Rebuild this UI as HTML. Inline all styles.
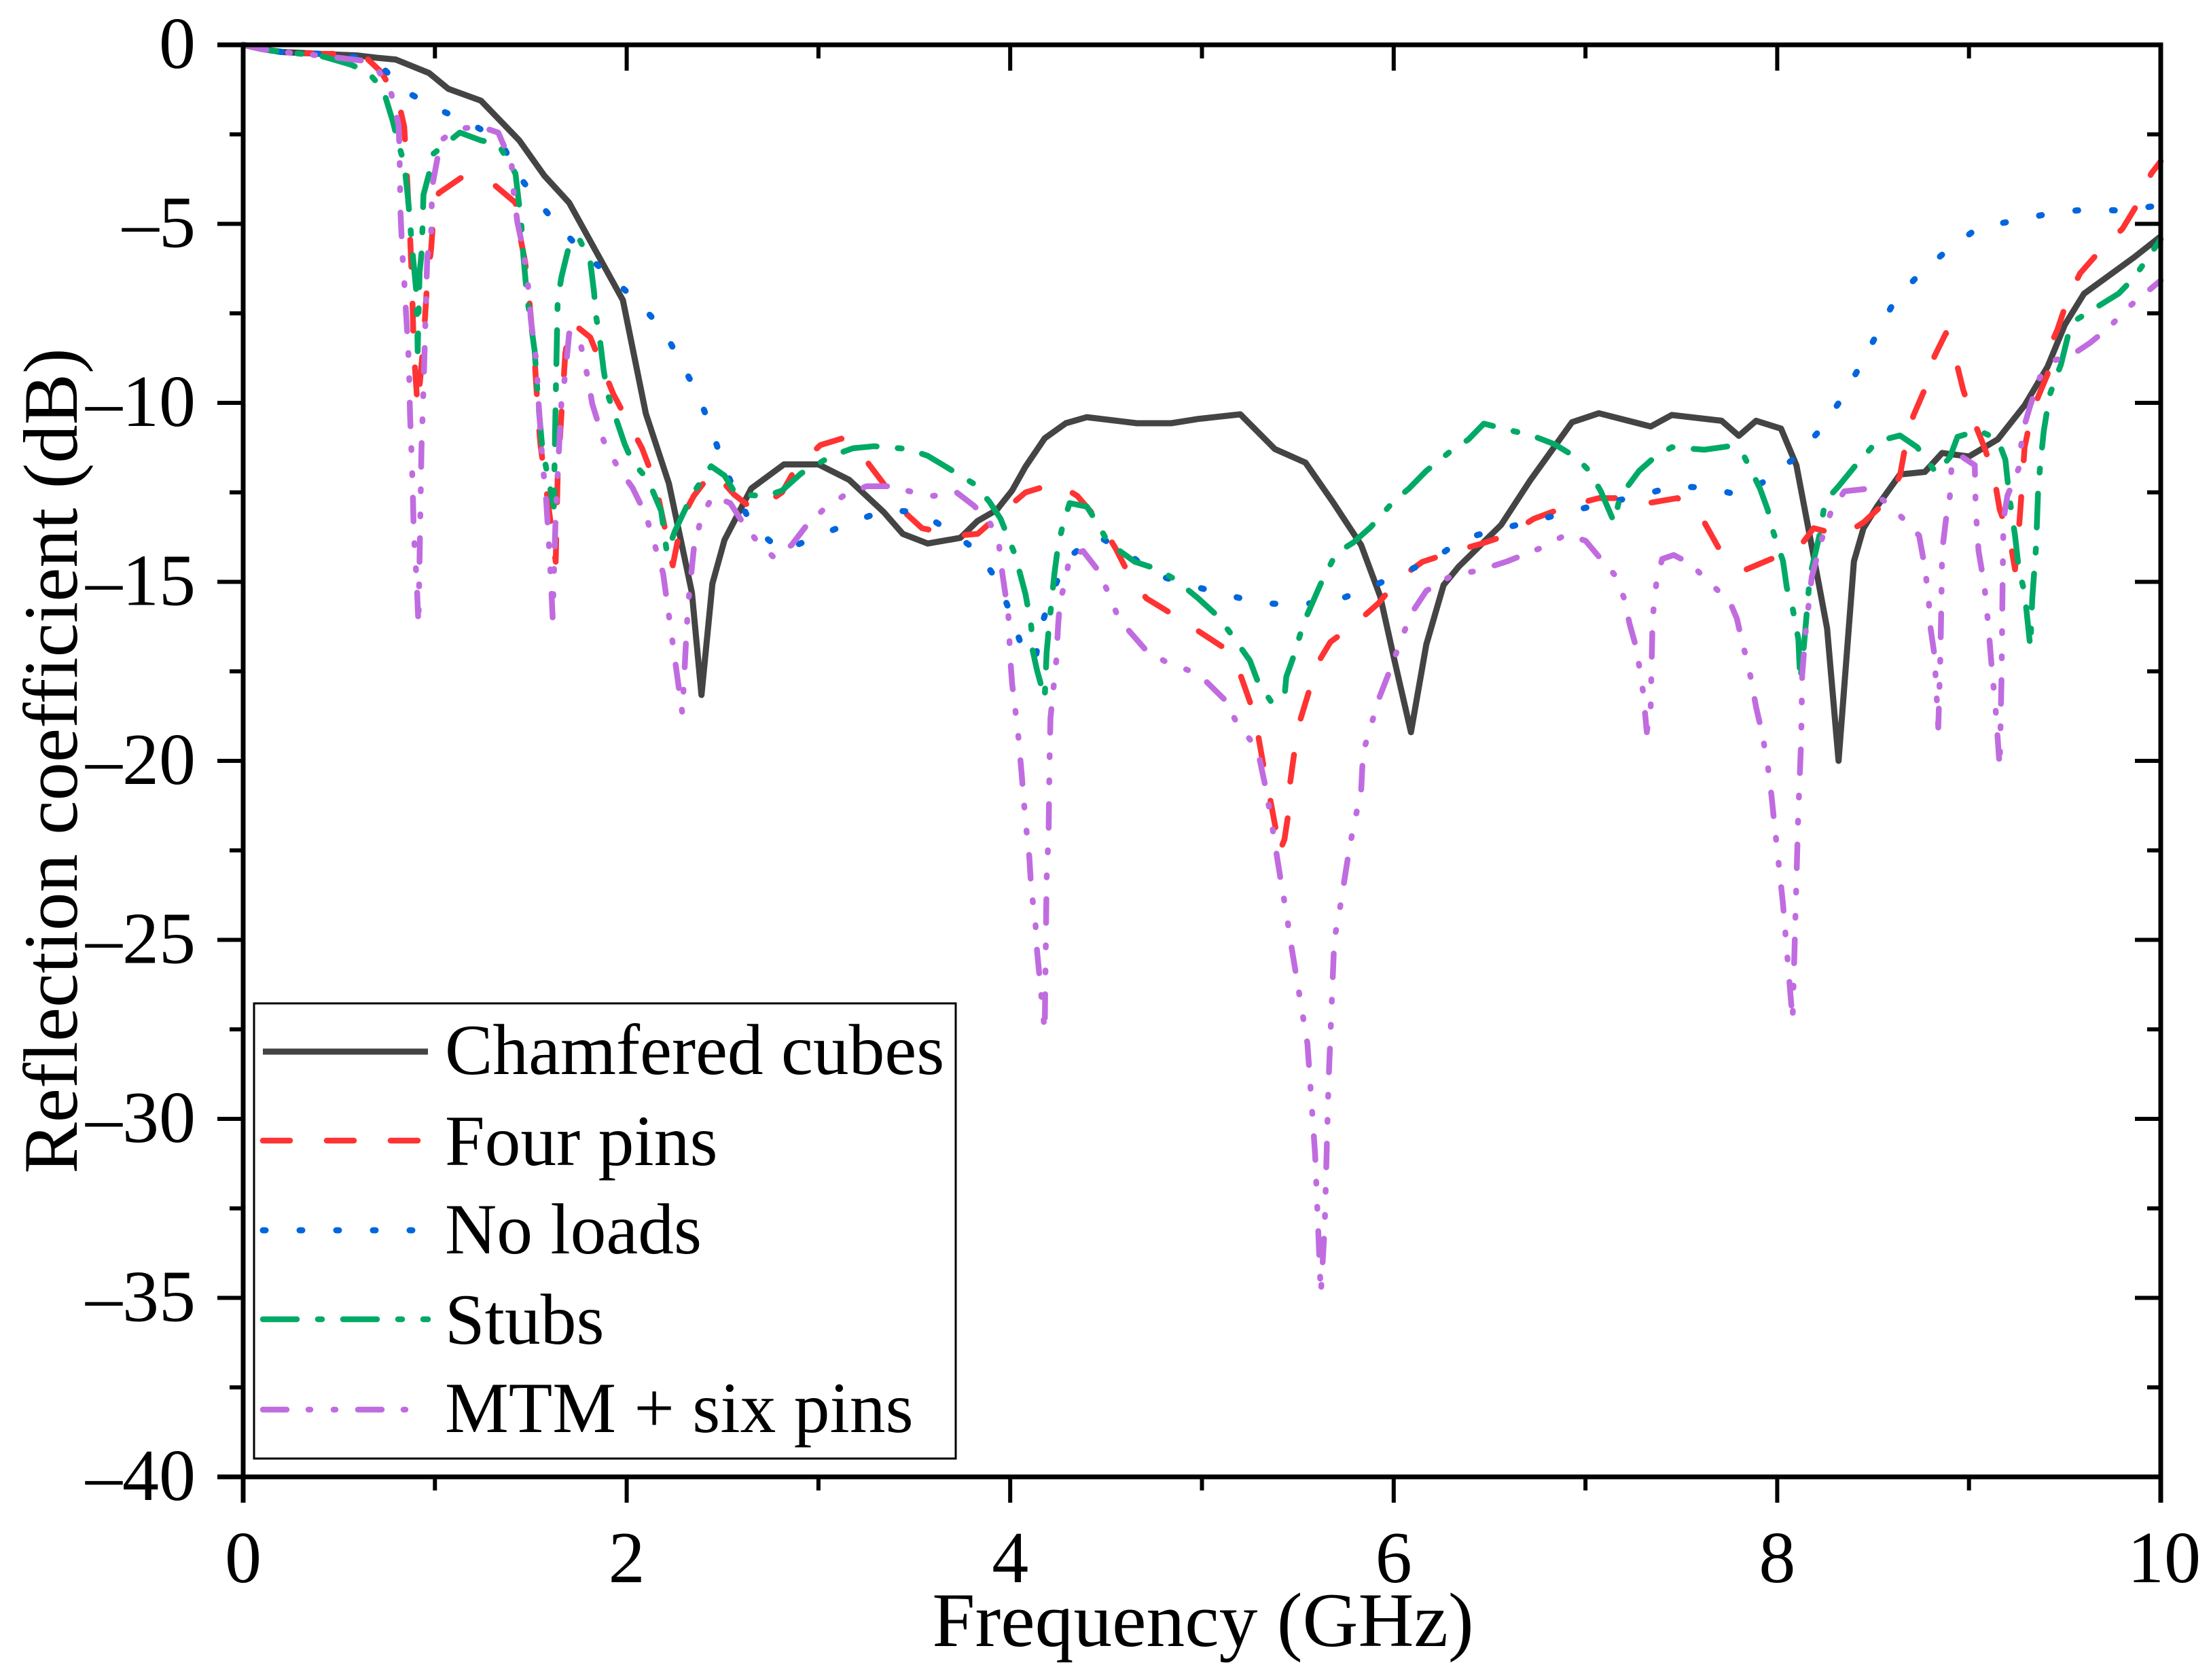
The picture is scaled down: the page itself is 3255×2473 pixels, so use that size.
<!DOCTYPE html>
<html lang="en">
<head>
<meta charset="utf-8">
<title>Reflection coefficient chart</title>
<style>
html,body{margin:0;padding:0;background:#fff;}
svg{display:block;}
text{font-family:"Liberation Serif",serif;fill:#000;}
</style>
</head>
<body>
<svg id="chart" xmlns="http://www.w3.org/2000/svg" width="3255" height="2473" viewBox="0 0 3255 2473">
<rect x="0" y="0" width="3255" height="2473" fill="#fff"/>
<g id="series"></g>
<g id="axes"></g>
<text x="1771" y="2423" font-size="113.5" text-anchor="middle">Frequency (GHz)</text>
<text transform="translate(113 1120) rotate(-90)" font-size="113" text-anchor="middle">Reflection coefficient (dB)</text>
<g id="legend">
<rect x="374" y="1477" width="1033" height="670" fill="#fff" stroke="#000" stroke-width="3"/>
</g>
</svg>
<script>
const xTickValues = [0, 2, 4, 6, 8, 10];
const xMinorValues = [1, 3, 5, 7, 9];
const yTickValues = [0, -5, -10, -15, -20, -25, -30, -35, -40];
const yMinorValues = [-2.5, -7.5, -12.5, -17.5, -22.5, -27.5, -32.5, -37.5];
const yTickLabels = ["0", "–5", "–10", "–15", "–20", "–25", "–30", "–35", "–40"];
const xTickLabels = ["0", "2", "4", "6", "8", "10"];

const chamferedFreq = [0,.1,.2,.4,.6,.695,.795,.97,1.07,1.24,
1.44,1.57,1.7,1.98,2.1,2.22,2.34,2.39,2.447,2.51,
2.65,2.82,3,3.16,3.34,3.44,3.57,3.74,3.83,3.93,
4.01,4.08,4.18,4.29,4.4,4.66,4.84,4.98,5.2,5.38,
5.54,5.68,5.83,5.93,6,6.09,6.17,6.26,6.34,6.56,
6.71,6.93,7.07,7.34,7.45,7.71,7.8,7.89,8.02,8.1,
8.18,8.26,8.32,8.4,8.45,8.52,8.64,8.77,8.86,9,
9.15,9.29,9.41,9.5,9.6,9.86,10];
const chamferedDb = [0,-.12,-.2,-.25,-.3,-.36,-.41,-.79,-1.23,-1.56,
-2.67,-3.65,-4.41,-7.13,-10.3,-12.25,-15.3,-18.16,-15.05,-13.83,
-12.39,-11.72,-11.72,-12.15,-13.05,-13.66,-13.93,-13.77,-13.3,-12.99,
-12.45,-11.78,-10.99,-10.57,-10.4,-10.57,-10.57,-10.45,-10.32,-11.29,
-11.67,-12.75,-13.97,-15.41,-17.1,-19.2,-16.75,-15.09,-14.57,-13.41,
-12.18,-10.54,-10.29,-10.66,-10.34,-10.5,-10.92,-10.5,-10.72,-11.74,
-14,-16.3,-20,-14.43,-13.5,-12.9,-12,-11.93,-11.4,-11.5,
-11.02,-10.07,-8.99,-7.82,-6.95,-5.94,-5.35];

const fourPinsFreq = [0,.1,.2,.4,.62,.72,.81,.84,.85,.86,
.87,.88,.89,.91,.94,.96,.98,.99,1.02,1.14,
1.3,1.42,1.45,1.47,1.49,1.52,1.54,1.55,1.59,1.63,
1.64,1.66,1.68,1.71,1.81,1.93,2.08,2.15,2.24,2.29,
2.35,2.45,2.56,2.67,2.81,2.88,3.01,3.12,3.24,3.34,
3.43,3.54,3.72,3.83,3.96,4.08,4.24,4.35,4.47,4.55,
4.62,4.71,4.86,4.98,5.12,5.2,5.26,5.29,5.32,5.35,
5.39,5.4,5.43,5.45,5.46,5.48,5.51,5.55,5.6,5.67,
5.8,5.92,6.03,6.15,6.32,6.46,6.6,6.73,6.9,7.07,
7.2,7.34,7.48,7.62,7.71,7.84,8,8.13,8.19,8.34,
8.45,8.57,8.64,8.67,8.71,8.78,8.82,8.88,8.93,8.97,
9.02,9.08,9.13,9.16,9.21,9.24,9.26,9.27,9.29,9.33,
9.41,9.43,9.46,9.52,9.58,9.69,9.8,9.89,9.95,10];
const fourPinsDb = [0,-.12,-.2,-.25,-.25,-.76,-1.58,-2.29,-3.2,-4.3,
-5.28,-6.6,-8.55,-10.13,-8.33,-6.6,-5.7,-4.96,-4.14,-3.7,
-3.87,-4.41,-5.5,-6.05,-7,-8.77,-10.5,-11.16,-12.8,-14.44,
-12.03,-10.3,-8.6,-7.74,-8.17,-9.75,-11.27,-12.25,-14.54,-13.2,
-12.6,-11.9,-12.56,-13.02,-12.5,-11.84,-11.18,-11,-11.55,-12.26,
-12.96,-13.5,-13.71,-13.66,-13.05,-12.5,-12.24,-12.6,-13.35,-14.07,
-14.8,-15.46,-15.95,-16.37,-16.86,-17.59,-18.5,-19.2,-20.1,-20.9,
-22.05,-22.6,-22.2,-21.5,-20.6,-19.83,-18.9,-18.2,-17.3,-16.68,
-16.17,-15.6,-14.9,-14.44,-14.14,-13.93,-13.68,-13.24,-12.9,-12.66,
-12.66,-12.79,-12.66,-13.34,-14.2,-14.65,-14.29,-13.93,-13.5,-13.71,
-13.34,-12.75,-12.03,-11.16,-10.36,-9.49,-8.7,-8.05,-8.77,-9.64,
-10.44,-11.24,-12.03,-12.98,-13.71,-14.65,-13.55,-12.83,-11.24,-10.22,
-9.2,-8.33,-7.97,-7.02,-6.38,-5.71,-5.14,-4.35,-3.6,-3.25];

const noLoadsFreq = [0,.1,.2,.4,.6,.72,.85,1.01,1.19,1.34,
1.43,1.53,1.65,1.78,1.92,2.06,2.19,2.28,2.37,2.44,
2.5,2.57,2.66,2.81,2.99,3.17,3.35,3.53,3.69,3.83,
3.94,4.01,4.07,4.13,4.16,4.22,4.29,4.45,4.61,4.76,
4.94,5.12,5.31,5.5,5.69,5.86,6.03,6.2,6.36,6.55,
6.73,6.91,7.1,7.28,7.46,7.63,7.81,7.95,8.1,8.23,
8.34,8.43,8.52,8.61,8.74,8.88,9.05,9.25,9.43,9.61,
9.8,10];
const noLoadsDb = [0,-.12,-.2,-.25,-.35,-.6,-1.31,-1.78,-2.21,-2.67,
-3.6,-4.33,-5.1,-5.83,-6.5,-7.19,-7.95,-8.84,-9.75,-10.7,
-11.67,-12.55,-13.47,-14.14,-13.74,-13.34,-13,-13.05,-13.6,-14.14,
-15.03,-16,-16.97,-17.2,-16.26,-15.3,-14.38,-13.7,-14.2,-14.8,
-15.1,-15.35,-15.6,-15.63,-15.54,-15.2,-14.78,-14.4,-13.8,-13.53,
-13.3,-13.05,-12.8,-12.6,-12.33,-12.37,-12.58,-12.14,-11.5,-10.72,
-9.85,-8.99,-8.08,-7.17,-6.41,-5.77,-5.1,-4.9,-4.7,-4.6,
-4.63,-4.48];

const stubsFreq = [0,.1,.2,.4,.56,.65,.73,.78,.81,.84,
.86,.87,.88,.905,.91,.92,.93,.935,.94,.97,
.99,1.13,1.24,1.33,1.42,1.45,1.46,1.48,1.5,1.52,
1.54,1.56,1.62,1.625,1.63,1.64,1.66,1.7,1.75,1.81,
1.83,1.84,1.86,1.88,1.9,1.99,2.03,2.11,2.18,2.21,
2.25,2.34,2.44,2.51,2.57,2.73,2.81,2.91,3.07,3.18,
3.29,3.47,3.57,3.67,3.81,3.89,3.95,4.02,4.05,4.08,
4.11,4.115,4.14,4.18,4.19,4.2,4.23,4.25,4.28,4.31,
4.4,4.46,4.51,4.65,4.76,4.86,4.98,5.07,5.14,5.25,
5.29,5.36,5.43,5.44,5.48,5.53,5.57,5.62,5.7,5.79,
5.88,6,6.08,6.17,6.29,6.39,6.47,6.61,6.72,6.84,
6.95,7.02,7.08,7.15,7.18,7.28,7.36,7.45,7.62,7.75,
7.83,7.91,7.95,7.98,8.03,8.05,8.08,8.11,8.12,8.14,
8.17,8.22,8.25,8.32,8.41,8.52,8.64,8.73,8.83,8.9,
8.94,9.05,9.15,9.19,9.21,9.24,9.26,9.29,9.32,9.33,
9.35,9.36,9.37,9.39,9.42,9.48,9.52,9.56,9.65,9.78,
9.86,10];
const stubsDb = [0,-.12,-.2,-.3,-.55,-.76,-1.25,-2.13,-2.77,-3.32,
-4.31,-4.96,-5.6,-7.02,-8.56,-6.37,-5.83,-5.12,-4.19,-3.59,
-3.05,-2.45,-2.67,-2.77,-3.6,-4.96,-5.83,-7.02,-7.78,-8.55,
-10.07,-11.27,-12.9,-11.38,-9.85,-7.13,-6.48,-5.6,-5.39,-6.05,
-6.92,-7.57,-8.22,-9.09,-9.75,-11.16,-11.65,-12.14,-13.02,-14.2,
-13.6,-12.58,-11.77,-12.03,-12.56,-12.6,-12.45,-11.97,-11.48,-11.27,
-11.21,-11.29,-11.48,-11.8,-12.26,-12.75,-13.24,-14.17,-14.74,-15.35,
-16.26,-16.87,-17.47,-18.25,-16.98,-16.37,-14.8,-13.97,-13.3,-12.8,
-12.9,-13.41,-13.9,-14.44,-14.63,-14.93,-15.46,-15.9,-16.37,-17.2,
-17.77,-18.34,-18.23,-17.65,-17.05,-16.15,-15.66,-15.05,-14.2,-13.9,
-13.47,-12.75,-12.39,-11.9,-11.38,-11.02,-10.58,-10.77,-10.91,-11.16,
-11.52,-11.9,-12.47,-13.34,-12.62,-11.9,-11.52,-11.24,-11.31,-11.21,
-11.52,-12.39,-12.98,-13.62,-14.42,-15.16,-15.73,-16.6,-17.77,-16.75,
-14.86,-13.71,-12.75,-12.33,-11.74,-11.08,-10.91,-11.24,-11.96,-11.52,
-10.95,-10.77,-11.02,-11.59,-12.62,-13.71,-14.65,-15.3,-16.83,-15.45,
-14,-12.54,-11.82,-10.79,-9.79,-8.92,-8.05,-7.68,-7.38,-6.95,
-6.51,-5.43];

const mtmFreq = [0,.1,.2,.4,.62,.71,.77,.81,.815,.82,
.83,.84,.85,.86,.865,.87,.88,.885,.89,.905,
.914,.93,.94,.95,.96,.98,.985,1.03,1.12,1.24,
1.33,1.4,1.41,1.43,1.46,1.49,1.5,1.53,1.54,1.55,
1.56,1.58,1.6,1.614,1.63,1.65,1.66,1.68,1.7,1.75,
1.8,1.82,1.88,1.95,2.03,2.1,2.19,2.29,2.31,2.32,
2.35,2.39,2.45,2.54,2.6,2.68,2.77,2.86,2.94,3.03,
3.13,3.25,3.37,3.49,3.6,3.72,3.81,3.89,3.94,3.96,
3.99,4,4.01,4.04,4.06,4.08,4.1,4.11,4.13,4.14,
4.18,4.19,4.2,4.205,4.21,4.24,4.25,4.26,4.29,4.31,
4.38,4.46,4.52,4.56,4.62,4.71,4.81,4.93,5.02,5.12,
5.18,5.25,5.3,5.33,5.36,5.38,5.41,5.44,5.47,5.55,
5.59,5.62,5.64,5.66,5.69,5.72,5.77,5.8,5.83,5.84,
5.88,5.92,5.98,6.04,6.09,6.17,6.31,6.44,6.59,6.76,
6.9,7,7.08,7.15,7.2,7.23,7.26,7.28,7.3,7.32,
7.34,7.345,7.35,7.37,7.4,7.46,7.55,7.64,7.75,7.79,
7.82,7.85,7.89,7.92,7.95,7.97,7.98,8.03,8.08,8.11,
8.125,8.13,8.15,8.18,8.23,8.28,8.35,8.47,8.56,8.65,
8.74,8.77,8.79,8.8,8.82,8.83,8.84,8.85,8.855,8.86,
8.88,8.9,8.91,8.95,9.03,9.035,9.05,9.08,9.1,9.12,
9.14,9.16,9.17,9.175,9.18,9.2,9.26,9.28,9.32,9.37,
9.43,9.54,9.63,9.73,9.82,10];
const mtmDb = [0,-.12,-.2,-.3,-.44,-.76,-1.31,-2.23,-2.89,-4.63,
-5.83,-6.6,-7.57,-8.44,-9.09,-10.3,-11.7,-12.58,-13.66,-15,
-16.2,-11.27,-9.64,-7.78,-5.94,-5.28,-3.98,-2.67,-2.34,-2.29,
-2.45,-3.32,-4.08,-4.96,-5.71,-6.92,-7.68,-8.88,-9.96,-10.72,
-11.6,-12.7,-14.44,-16,-13.13,-10.96,-9.96,-9.2,-8.06,-8.11,
-9.37,-10.02,-11.06,-11.76,-12.37,-13.13,-14.76,-18.67,-16.6,-15.66,
-14.08,-13.17,-12.6,-12.8,-13.3,-13.87,-14.33,-13.97,-13.41,-12.96,
-12.6,-12.33,-12.33,-12.49,-12.6,-12.5,-12.87,-13.3,-13.9,-14.8,
-15.9,-17.12,-17.84,-19.17,-20.38,-21.7,-22.7,-23.63,-24.4,-25.3,
-27.55,-23.3,-22.05,-20,-18.8,-17.2,-16.2,-15.54,-14.93,-14.27,
-14.14,-14.69,-15.41,-15.95,-16.37,-16.92,-17.23,-17.47,-17.77,-18.3,
-18.92,-19.4,-19.94,-20.7,-21.6,-22.3,-23.3,-24.25,-25.3,-27.9,
-31,-34.9,-33,-29,-25,-24.1,-22.4,-21.6,-20.85,-19.77,
-19.05,-18.3,-17.47,-16.6,-15.9,-15.25,-14.8,-14.69,-14.43,-14.07,
-13.68,-13.85,-14.36,-14.79,-15.44,-16.17,-16.75,-17.34,-18.06,-19.2,
-18.5,-17.3,-16.03,-15,-14.36,-14.25,-14.5,-15,-15.52,-16.03,
-16.75,-17.34,-18.5,-19.2,-20.1,-20.96,-21.5,-24,-27.24,-21.4,
-19.4,-17.6,-16.3,-14.87,-13.85,-13.05,-12.47,-12.4,-12.75,-13.2,
-13.71,-14.6,-15.5,-16.3,-17.05,-18.06,-19.07,-17.2,-15.88,-14.14,
-13.26,-12.62,-11.67,-11.46,-11.74,-12.98,-14.14,-15.09,-16.17,-17.47,
-18.63,-20.17,-17.6,-15.16,-13.26,-12.6,-11.82,-10.8,-10.07,-9.28,
-8.84,-8.65,-8.33,-7.9,-7.38,-6.58];

const plotLeft = 358, plotRight = 3181, plotTop = 66, plotBottom = 2174;
const xMin = 0, xMax = 10, yMax = 0, yMin = -40;
function xScale(v) { return plotLeft + (v - xMin) / (xMax - xMin) * (plotRight - plotLeft); }
function yScale(v) { return plotTop + (yMax - v) / (yMax - yMin) * (plotBottom - plotTop); }

const NS = "http://www.w3.org/2000/svg";
const seriesLayer = document.getElementById("series");
const axesLayer = document.getElementById("axes");
const legendLayer = document.getElementById("legend");

const seriesStyles = [
  { key: "chamfered-cubes", label: "Chamfered cubes", freq: chamferedFreq, db: chamferedDb, color: "#444444", width: 9, dash: "", cap: "butt" },
  { key: "four-pins", label: "Four pins", freq: fourPinsFreq, db: fourPinsDb, color: "#FF3333", width: 8.5, dash: "40 54", cap: "round" },
  { key: "no-loads", label: "No loads", freq: noLoadsFreq, db: noLoadsDb, color: "#0066DD", width: 9, dash: "4 50", cap: "round" },
  { key: "stubs", label: "Stubs", freq: stubsFreq, db: stubsDb, color: "#00AA66", width: 8.5, dash: "50 31 6 31", cap: "round" },
  { key: "mtm-six-pins", label: "MTM + six pins", freq: mtmFreq, db: mtmDb, color: "#C06CE0", width: 8.5, dash: "35 32 3 34 3 33", cap: "round" }
];

seriesStyles.forEach(function (s) {
  const p = document.createElementNS(NS, "path");
  
  
  const d = s.freq.map(function (f, i) {
    return (i ? "L" : "M") + xScale(f).toFixed(1) + " " + yScale(s.db[i]).toFixed(1);
  }).join("");
  p.setAttribute("d", d);
  p.setAttribute("fill", "none");
  p.setAttribute("stroke", s.color);
  p.setAttribute("stroke-width", s.width);
  p.setAttribute("stroke-linejoin", "round");
  p.setAttribute("stroke-linecap", s.cap);
  if (s.dash) p.setAttribute("stroke-dasharray", s.dash);
  seriesLayer.appendChild(p);
});

function axisLine(name, x1, y1, x2, y2, w) {
  const l = document.createElementNS(NS, "line");
  
  
  l.setAttribute("x1", x1);
  l.setAttribute("y1", y1);
  l.setAttribute("x2", x2);
  l.setAttribute("y2", y2);
  l.setAttribute("stroke", "#000");
  l.setAttribute("stroke-width", w);
  axesLayer.appendChild(l);
}
function axisText(name, x, y, str, anchor) {
  const t = document.createElementNS(NS, "text");
  
  
  t.setAttribute("x", x);
  t.setAttribute("y", y);
  t.setAttribute("font-size", "108");
  t.setAttribute("text-anchor", anchor);
  t.textContent = str;
  axesLayer.appendChild(t);
}

axisLine("left-axis-line", plotLeft, plotTop - 3.5, plotLeft, plotBottom + 38, 7);
axisLine("right-axis-line", plotRight, plotTop - 3.5, plotRight, plotBottom + 38, 7);
axisLine("top-axis-line", plotLeft - 38, plotTop, plotRight + 3.5, plotTop, 7);
axisLine("bottom-axis-line", plotLeft - 38, plotBottom, plotRight + 3.5, plotBottom, 7);

xTickValues.forEach(function (v, i) {
  const x = xScale(v);
  if (v !== xMin && v !== xMax) {
    axisLine("x-major-tick-bottom", x, plotBottom, x, plotBottom + 38, 6);
    axisLine("x-major-tick-top", x, plotTop, x, plotTop + 38, 6);
  }
  axisText("x-tick-label", x + (v === 10 ? 5 : 0), 2329, xTickLabels[i], "middle");
});
xMinorValues.forEach(function (v) {
  const x = xScale(v);
  axisLine("x-minor-tick-bottom", x, plotBottom, x, plotBottom + 20, 6);
  axisLine("x-minor-tick-top", x, plotTop, x, plotTop + 20, 6);
});
yTickValues.forEach(function (v, i) {
  const y = yScale(v);
  if (v !== yMax && v !== yMin) {
    axisLine("y-major-tick-left", plotLeft - 38, y, plotLeft, y, 6);
    axisLine("y-major-tick-right", plotRight - 38, y, plotRight, y, 6);
  }
  axisText("y-tick-label", 288, y + 34, yTickLabels[i], "end");
});
yMinorValues.forEach(function (v) {
  const y = yScale(v);
  axisLine("y-minor-tick-left", plotLeft - 20, y, plotLeft, y, 6);
  axisLine("y-minor-tick-right", plotRight - 20, y, plotRight, y, 6);
});

const legendLineY = [1548, 1679, 1811, 1942, 2075];
const legendTextY = [1581, 1715, 1845, 1978, 2108];
seriesStyles.forEach(function (s, i) {
  const l = document.createElementNS(NS, "line");
  
  
  l.setAttribute("x1", 387);
  l.setAttribute("x2", 630);
  l.setAttribute("y1", legendLineY[i]);
  l.setAttribute("y2", legendLineY[i]);
  l.setAttribute("stroke", s.color);
  l.setAttribute("stroke-width", s.width);
  l.setAttribute("stroke-linecap", s.cap);
  if (s.dash) l.setAttribute("stroke-dasharray", s.dash);
  legendLayer.appendChild(l);
  const t = document.createElementNS(NS, "text");
  
  
  t.setAttribute("x", 655);
  t.setAttribute("y", legendTextY[i]);
  t.setAttribute("font-size", "105.5");
  t.textContent = s.label;
  legendLayer.appendChild(t);
});
</script>
</body>
</html>
